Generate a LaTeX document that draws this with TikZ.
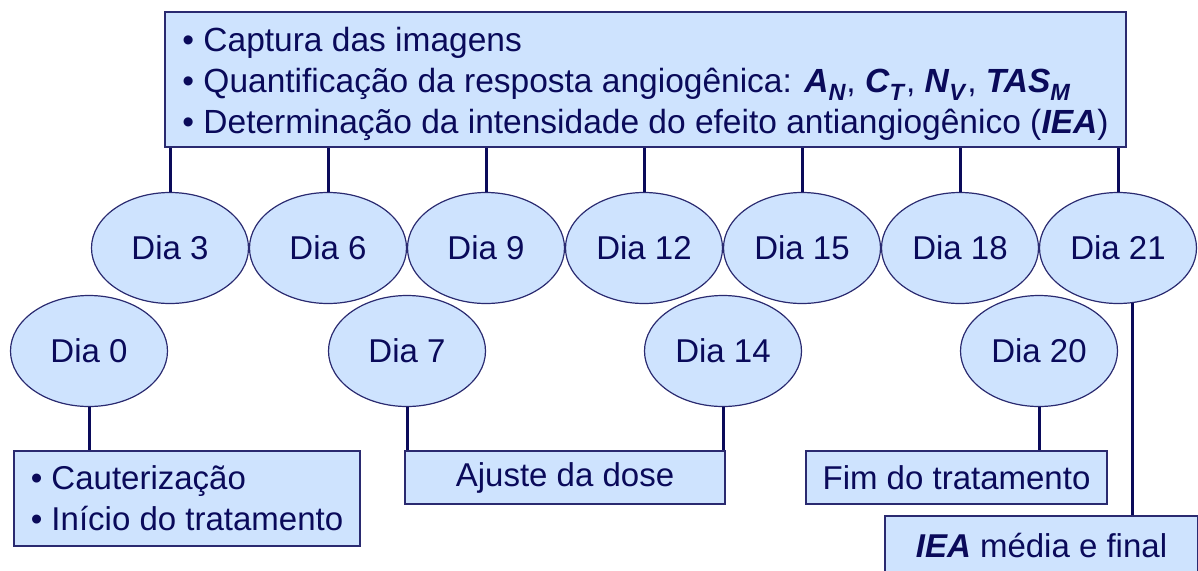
\documentclass[tikz,border=0pt]{standalone}
\usepackage{fontspec}
\setmainfont{Liberation Sans}
\usetikzlibrary{shapes.geometric,backgrounds}

\definecolor{boxfill}{RGB}{206,227,254}
\definecolor{boxline}{RGB}{42,42,112}
\definecolor{navy}{RGB}{10,10,90}
\newcommand{\bi}[1]{\textbf{\textit{#1}}}

\begin{document}
\begin{tikzpicture}[x=1pt,y=-1pt,
    every node/.style={font=\fontsize{33}{41}\selectfont,text=navy},
    daynode/.style={ellipse,draw=boxline,line width=1.2pt,
                    minimum width=157pt,minimum height=111pt,inner sep=0pt},
    infobox/.style={rectangle,draw=boxline,fill=boxfill,line width=1.4pt,inner sep=0pt},
    link/.style={draw=navy,line width=3pt}]
  \useasboundingbox (0,0) rectangle (1198,570);
  \clip (0,0) rectangle (1198,570);

  % caixa de cima
  \node[infobox,minimum width=961pt,minimum height=135pt,align=left,
        font=\fontsize{33.5}{41}\selectfont] (analise) at (645.5,79.5) {
    \rule{0pt}{34pt}• Captura das imagens\\
    • Quantificação da resposta angiogênica: \bi{A}\textsubscript{\bi{N}},
      \bi{C}\textsubscript{\bi{T}}, \bi{N}\textsubscript{\bi{V}}, \bi{TAS}\textsubscript{\bi{M}}\\
    • Determinação da intensidade do efeito antiangiogênico (\bi{IEA})
  };

  % dias
  \foreach \d [count=\i from 0] in {3,6,9,12,15,18,21}
    \node[daynode] (d\d) at (170+158*\i,248) {Dia \d};
  \foreach \d/\x in {0/89,7/407,14/723,20/1039}
    \node[daynode] (d\d) at (\x,351) {Dia \d};
  \begin{scope}[on background layer]
    \foreach \d in {0,3,6,7,9,12,14,15,18,20,21}
      \fill[boxfill] (d\d.center) ellipse [x radius=78.5, y radius=55.5];
  \end{scope}

  % caixas de baixo
  \node[infobox,minimum width=346pt,minimum height=95pt,align=left] (cauter) at (187,498.5)
    {• Cauterização\\• Início do tratamento};
  \node[infobox,minimum width=320pt,minimum height=53pt] (ajuste) at (565,477.5) {Ajuste da dose};
  \node[infobox,minimum width=301pt,minimum height=53pt] (fim) at (956.5,477.5) {Fim do tratamento};
  \node[infobox,minimum width=313pt,minimum height=59pt] (iea) at (1041.5,545.5) {\bi{IEA} média e final};

  % ligacoes
  \foreach \d in {3,6,9,12,15,18,21}
    \draw[link] (d\d.north) -- (d\d.north |- analise.south);
  \draw[link] (d0.south) -- (d0.south |- cauter.north);
  \draw[link] (d7.south) -- (d7.south |- ajuste.north);
  \draw[link] (d14.south) -- (d14.south |- ajuste.north);
  \draw[link] (d20.south) -- (d20.south |- fim.north);
  \draw[link] (d21.-75.6) -- (d21.-75.6 |- iea.north);
\end{tikzpicture}
\end{document}
